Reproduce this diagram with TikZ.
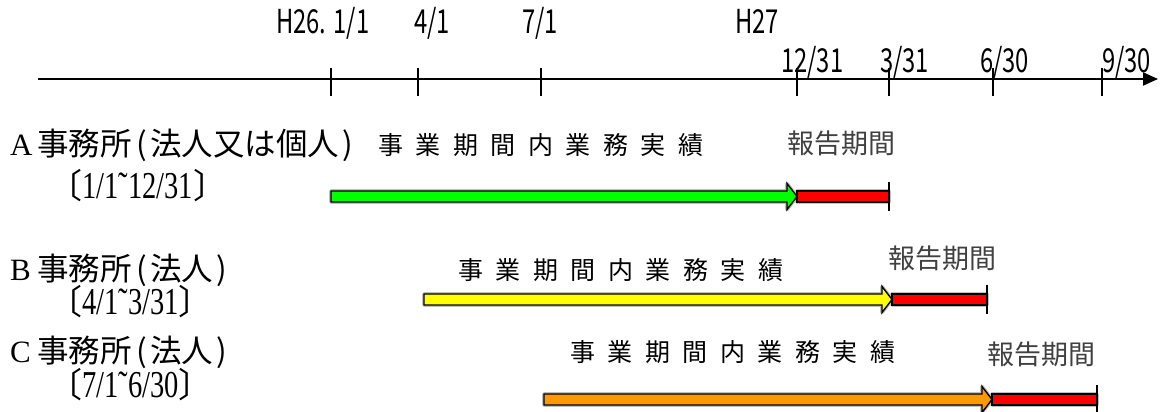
\documentclass[tikz,border=0pt]{standalone}
\usepackage{fontspec}
\usetikzlibrary{arrows.meta}
\newfontfamily\jfont{Noto Sans CJK JP}
\newfontfamily\axfont[FakeStretch=0.72]{Noto Sans CJK JP}
\newfontfamily\brfont[FakeStretch=0.75]{Liberation Serif}
\newfontfamily\latfont{Liberation Serif}
\definecolor{barGreen}{HTML}{00FF00}
\definecolor{barYellow}{HTML}{FFFF00}
\definecolor{barOrange}{HTML}{FF9900}
\definecolor{barRed}{HTML}{FF0000}
\definecolor{repGray}{HTML}{404040}
\newcommand\jg{\hspace{12.5pt}}
\newcommand\letterbox[1]{\makebox[27pt][l]{\latfont\fontsize{31}{31}\selectfont #1}}
\newcommand\lp{\hspace{5pt}(\hspace{3pt}}
\newcommand\rp{\hspace{3pt})}
\newcommand\arrowpath[3]{% #1 style, #2 start, #3 tip
  \draw[#1] ([yshift=5.5pt]#2) -- ([xshift=-10pt,yshift=5.5pt]#3)
    -- ([xshift=-10pt,yshift=13pt]#3) -- (#3) -- ([xshift=-10pt,yshift=-13pt]#3)
    -- ([xshift=-10pt,yshift=-5.5pt]#3) -- ([yshift=-5.5pt]#2) -- cycle;}
\newcommand\blockarrow[4]{% #1 start, #2 tip, #3 end, #4 colour
  \arrowpath{halo}{#1}{#2}
  \draw[halo] ([yshift=5.5pt]#2) rectangle ([yshift=-5.5pt]#3);
  \arrowpath{barline,fill=#4}{#1}{#2}
  \draw[barline,fill=barRed] ([yshift=5.5pt]#2) rectangle ([yshift=-5.5pt]#3);
  \draw[endline] ([yshift=14.5pt]#3) -- ([yshift=-14.5pt]#3);
}
\begin{document}
\begin{tikzpicture}[x=1pt,y=-1pt,
  axisline/.style={line width=2pt,-{Triangle[length=15pt,width=13pt]}},
  tickline/.style={line width=1.4pt},
  halo/.style={line width=3.6pt,draw=black!25,line join=round},
  barline/.style={line width=1.4pt,draw=black},
  endline/.style={line width=1.6pt},
  axislabel/.style={anchor=base west,inner sep=0pt,font=\axfont\fontsize{33}{33}\selectfont},
  office/.style={anchor=west,inner sep=0pt,font=\jfont\fontsize{31.5}{31.5}\selectfont},
  fiscal/.style={anchor=west,inner sep=0pt,font=\brfont\fontsize{38}{38}\selectfont},
  period/.style={anchor=west,inner sep=0pt,font=\jfont\fontsize{25}{25}\selectfont},
  report/.style={anchor=west,inner sep=0pt,text=repGray,font=\jfont\fontsize{27}{27}\selectfont}]
\useasboundingbox (0,0) rectangle (1170,412);

% axis
\coordinate (axL) at (38,79);
\coordinate (axR) at (1158,79);
\draw[axisline] (axL) -- (axR);
\foreach \n/\x in {t1/331,t2/418,t3/541,t4/797,t5/889,t6/993,t7/1102}{
  \coordinate (\n a) at (\x,68);
  \coordinate (\n b) at (\x,96);
  \draw[tickline] (\n a) -- (\n b);
}

% axis labels
\node[axislabel] (lH26) at (276,34) {H26. 1/1};
\node[axislabel] (l41) at (414,34) {4/1};
\node[axislabel] (l71) at (522,34) {7/1};
\node[axislabel] (lH27) at (735,34) {H27};
\node[axislabel] (l1231) at (781,73) {12/31};
\node[axislabel] (l331) at (880,73) {3/31};
\node[axislabel] (l630) at (980,73) {6/30};
\node[axislabel] (l930) at (1102,73) {9/30};

% row A
\node[office] (offA) at (10,145) {\letterbox{A}事務所\lp 法人又は個人\rp};
\node[fiscal] (fyA) at (48,186) {{\jfont\fontsize{34}{34}\selectfont 〔}1/1˜12/31{\jfont\fontsize{34}{34}\selectfont 〕}};
\node[period] (perA) at (378,145) {事\jg 業\jg 期\jg 間\jg 内\jg 業\jg 務\jg 実\jg 績};
\node[report] (repA) at (787,143) {報告期間};
\coordinate (As) at (331,196.5);
\coordinate (At) at (797,196.5);
\coordinate (Ae) at (889,196.5);
\blockarrow{As}{At}{Ae}{barGreen}

% row B
\node[office] (offB) at (10,270) {\letterbox{B}事務所\lp 法人\rp};
\node[fiscal] (fyB) at (48,302) {{\jfont\fontsize{34}{34}\selectfont 〔}4/1˜3/31{\jfont\fontsize{34}{34}\selectfont 〕}};
\node[period] (perB) at (458,270) {事\jg 業\jg 期\jg 間\jg 内\jg 業\jg 務\jg 実\jg 績};
\node[report] (repB) at (888,258) {報告期間};
\coordinate (Bs) at (424,299.5);
\coordinate (Bt) at (892,299.5);
\coordinate (Be) at (987,299.5);
\blockarrow{Bs}{Bt}{Be}{barYellow}

% row C
\node[office] (offC) at (10,352) {\letterbox{C}事務所\lp 法人\rp};
\node[fiscal] (fyC) at (48,385) {{\jfont\fontsize{34}{34}\selectfont 〔}7/1˜6/30{\jfont\fontsize{34}{34}\selectfont 〕}};
\node[period] (perC) at (570,352) {事\jg 業\jg 期\jg 間\jg 内\jg 業\jg 務\jg 実\jg 績};
\node[report] (repC) at (987,354) {報告期間};
\coordinate (Cs) at (544,399.5);
\coordinate (Ct) at (992,399.5);
\coordinate (Ce) at (1097,399.5);
\blockarrow{Cs}{Ct}{Ce}{barOrange}
\end{tikzpicture}
\end{document}
